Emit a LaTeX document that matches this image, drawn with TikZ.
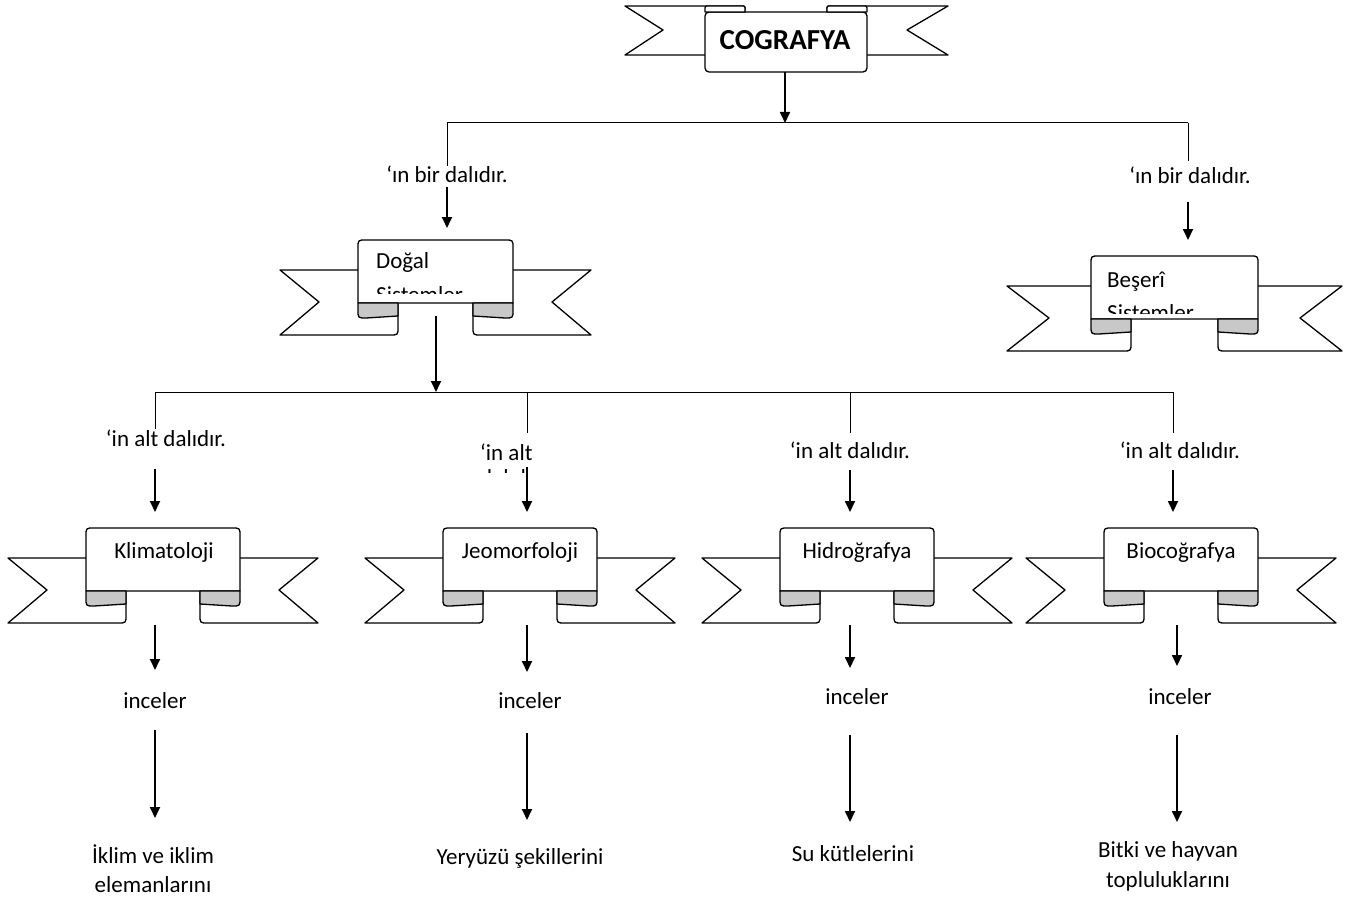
\documentclass[tikz,border=0pt]{standalone}
\usepackage{fontspec}
\setmainfont{Carlito}
\usepackage{xcolor}
\usepackage{tikz}
\usetikzlibrary{arrows.meta}

\definecolor{rollgrey}{RGB}{200,200,200}

% down ribbon: #1 panel left, #2 panel right, #3 panel top, #4 tail length
\newcommand{\downribbon}[4]{%
  \filldraw[ribbon] (#1+40,#3+30) -- (#1-#4,#3+30) -- (#1-#4/2,#3+62) -- (#1-#4,#3+95)
    -- (#1+32,#3+95) .. controls (#1+40,#3+95) .. (#1+40,#3+87) -- cycle;
  \filldraw[ribbon] (#2-40,#3+30) -- (#2+#4,#3+30) -- (#2+#4/2,#3+62) -- (#2+#4,#3+95)
    -- (#2-32,#3+95) .. controls (#2-40,#3+95) .. (#2-40,#3+87) -- cycle;
  \filldraw[ribbon] (#1,#3+63) -- (#1,#3+8) .. controls (#1,#3) .. (#1+8,#3)
    -- (#2-8,#3) .. controls (#2,#3) .. (#2,#3+8) -- (#2,#3+63) -- cycle;
  \filldraw[ribbon, fill=rollgrey] (#1+40,#3+63) -- (#1,#3+63) -- (#1,#3+70)
    .. controls (#1,#3+78) .. (#1+8,#3+78) -- (#1+40,#3+76) -- cycle;
  \filldraw[ribbon, fill=rollgrey] (#2-40,#3+63) -- (#2,#3+63) -- (#2,#3+70)
    .. controls (#2,#3+78) .. (#2-8,#3+78) -- (#2-40,#3+76) -- cycle;
}

\begin{document}
\begin{tikzpicture}[
    x=1pt, y=-1pt,
    ribbon/.style={draw=black, fill=white, line width=1.3pt, line join=round},
    conn/.style={line width=1pt},
    arr/.style={line width=1.8pt, -{Triangle[length=11pt,width=10pt]}},
    lbl/.style={inner sep=0pt, anchor=base, font=\fontsize{23}{28}\selectfont},
    lblw/.style={lbl, anchor=base west}
]
\useasboundingbox (0,0) rectangle (1354,904);

% title ribbon (rolls on top)
\filldraw[ribbon] (745,55) -- (625,55) -- (663,30) -- (625,6) -- (741,6) .. controls (745,6) .. (745,10) -- cycle;
\filldraw[ribbon] (827,55) -- (948,55) -- (907,30) -- (948,6) -- (831,6) .. controls (827,6) .. (827,10) -- cycle;
\filldraw[ribbon, rounded corners=4] (705,12) rectangle (867,72);
\filldraw[ribbon] (705,12) -- (705,10) .. controls (705,6) .. (709,6) -- (741,6) .. controls (745,6) .. (745,10) -- (745,12) -- cycle;
\filldraw[ribbon] (867,12) -- (867,10) .. controls (867,6) .. (863,6) -- (831,6) .. controls (827,6) .. (827,10) -- (827,12) -- cycle;
\node[lbl, font=\fontsize{29}{34}\selectfont\bfseries] (cog) at (785,50) {COGRAFYA};

% second level ribbons
\downribbon{358}{513}{240}{78}
\downribbon{1091}{1258}{256}{84}
\node[lblw] (dogal) at (376,268) {Doğal};
\begin{scope}
  \clip (360,276) rectangle (510,293);
  \node[lblw] (dogal2) at (376,302) {Sistemler};
\end{scope}
\node[lblw] (beseri) at (1107,287) {Beşerî};
\begin{scope}
  \clip (1093,295) rectangle (1255,313);
  \node[lblw] (beseri2) at (1107,320) {Sistemler};
\end{scope}

% third level ribbons
\downribbon{86}{240}{528}{78}
\downribbon{443}{597}{528}{78}
\downribbon{780}{934}{528}{78}
\downribbon{1104}{1258}{528}{78}
\node[lbl] (klim) at (164,558) {Klimatoloji};
\node[lbl] (jeo) at (520,558) {Jeomorfoloji};
\node[lbl] (hidro) at (857,558) {Hidroğrafya};
\node[lbl] (bio) at (1181,558) {Biocoğrafya};

% COGRAFYA branches
\coordinate (cogB) at (785,72);
\coordinate (topbar) at (785,123);
\coordinate (topL) at (447,123);
\coordinate (topR) at (1188,123);
\draw[arr] (cogB) -- (topbar);
\draw[conn] (topL) -- (topR);
\node[lbl] (dalL) at (447,183) {‘ın bir dalıdır.};
\node[lbl] (dalR) at (1190,184) {‘ın bir dalıdır.};
\coordinate (dalLin) at (447,166);
\coordinate (dalLout) at (447,187);
\coordinate (dogalT) at (447,228);
\coordinate (dalRin) at (1188,161);
\coordinate (dalRout) at (1188,202);
\coordinate (beseriT) at (1188,240);
\draw[conn] (topL) -- (dalLin);
\draw[conn] (topR) -- (dalRin);
\draw[arr] (dalLout) -- (dogalT);
\draw[arr] (dalRout) -- (beseriT);

% Dogal Sistemler branches
\coordinate (dogalB) at (436,316);
\coordinate (midbar) at (436,392);
\coordinate (midL) at (155,392);
\coordinate (midJ) at (527,392);
\coordinate (midH) at (850,392);
\coordinate (midR) at (1173,392);
\draw[arr] (dogalB) -- (midbar);
\draw[conn] (midL) -- (midR);

\node[lbl] (altK) at (166,446) {‘in alt dalıdır.};
\node[lblw] (altJ) at (480,460) {‘in alt};
\begin{scope}
  \clip (470,465) rectangle (560,472);
  \node[lblw] (altJ2) at (480,485) {dalıdır.};
\end{scope}
\node[lbl] (altH) at (850,458) {‘in alt dalıdır.};
\node[lbl] (altB) at (1180,458) {‘in alt dalıdır.};

\coordinate (altKin) at (155,429);
\coordinate (altJin) at (527,433);
\coordinate (altHin) at (850,433);
\coordinate (altBin) at (1173,433);
\draw[conn] (midL) -- (altKin);
\draw[conn] (midJ) -- (altJin);
\draw[conn] (midH) -- (altHin);
\draw[conn] (midR) -- (altBin);

\coordinate (altKout) at (155,469);
\coordinate (altJout) at (527,467);
\coordinate (altHout) at (850,470);
\coordinate (altBout) at (1173,470);
\coordinate (klimT) at (155,512);
\coordinate (jeoT) at (527,512);
\coordinate (hidroT) at (850,512);
\coordinate (bioT) at (1173,512);
\draw[arr] (altKout) -- (klimT);
\draw[arr] (altJout) -- (jeoT);
\draw[arr] (altHout) -- (hidroT);
\draw[arr] (altBout) -- (bioT);

% what each branch studies
\coordinate (klimB) at (155,625);
\coordinate (jeoB) at (527,625);
\coordinate (hidroB) at (850,625);
\coordinate (bioB) at (1177,625);
\coordinate (incK) at (155,670);
\coordinate (incJ) at (527,672);
\coordinate (incH) at (850,668);
\coordinate (incB) at (1177,666);
\draw[arr] (klimB) -- (incK);
\draw[arr] (jeoB) -- (incJ);
\draw[arr] (hidroB) -- (incH);
\draw[arr] (bioB) -- (incB);

\node[lbl] (incKt) at (155,708) {inceler};
\node[lbl] (incJt) at (530,708) {inceler};
\node[lbl] (incHt) at (857,704) {inceler};
\node[lbl] (incBt) at (1180,704) {inceler};

\coordinate (incKout) at (155,730);
\coordinate (incJout) at (527,733);
\coordinate (incHout) at (850,735);
\coordinate (incBout) at (1177,735);
\coordinate (konK) at (155,818);
\coordinate (konJ) at (527,820);
\coordinate (konH) at (850,822);
\coordinate (konB) at (1177,822);
\draw[arr] (incKout) -- (konK);
\draw[arr] (incJout) -- (konJ);
\draw[arr] (incHout) -- (konH);
\draw[arr] (incBout) -- (konB);

\node[lbl] (konK1) at (153,863) {İklim ve iklim};
\node[lbl] (konK2) at (153,892) {elemanlarını};
\node[lbl] (konJ1) at (520,864) {Yeryüzü şekillerini};
\node[lbl] (konH1) at (853,861) {Su kütlelerini};
\node[lbl] (konB1) at (1168,857) {Bitki ve hayvan};
\node[lbl] (konB2) at (1168,887) {topluluklarını};

\end{tikzpicture}
\end{document}
